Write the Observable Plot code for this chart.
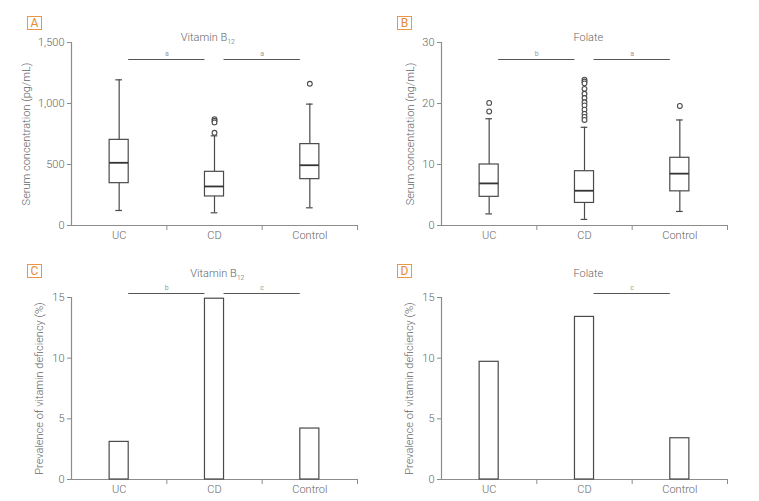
<!DOCTYPE html>
<html><head><meta charset="utf-8">
<script src="https://cdn.jsdelivr.net/npm/d3@7"></script>
<script src="https://cdn.jsdelivr.net/npm/@observablehq/plot@0.6"></script>
<style>
body{margin:0;background:#fff;width:759px;height:501px;position:relative;overflow:hidden;font-family:Roboto,"Liberation Sans",sans-serif;}
.panel{position:absolute;}
.letter{position:absolute;box-sizing:border-box;width:15px;height:14px;border:1.3px solid #ea9548;color:#e58a35;font-size:12px;line-height:12px;text-align:center;font-family:Roboto,sans-serif;}
</style></head><body>
<script>
// ---- data ----
const categories = ["UC", "CD", "Control"];

// A: Vitamin B12 serum concentration (pg/mL)
const b12Low = [123, 104, 145];
const b12Q1 = [347, 238, 380];
const b12Median = [514, 320, 494];
const b12Q3 = [702, 440, 667];
const b12High = [1194, 735, 995];
const b12Outliers = [[], [872, 858, 845, 760], [1162]];

// B: Folate serum concentration (ng/mL)
const folLow = [1.9, 1.0, 2.3];
const folQ1 = [4.7, 3.7, 5.6];
const folMedian = [6.9, 5.7, 8.5];
const folQ3 = [10.0, 8.9, 11.1];
const folHigh = [17.5, 16.1, 17.3];
const folOutliers = [[18.7, 20.1], [23.9, 23.6, 23.3, 22.4, 21.6, 20.9, 20.2, 19.7, 19.0, 18.3, 17.8, 17.3], [19.6]];

// C, D: prevalence of deficiency (%)
const b12Deficiency = [3.1, 14.9, 4.2];
const folDeficiency = [9.7, 13.4, 3.4];

// significance brackets [from, to, label]
const b12SerumSig = [["UC", "CD", "a"], ["CD", "Control", "a"]];
const folSerumSig = [["UC", "CD", "b"], ["CD", "Control", "a"]];
const b12DefSig = [["UC", "CD", "b"], ["CD", "Control", "c"]];
const folDefSig = [["CD", "Control", "c"]];

const yTicksB12 = [0, 500, 1000, 1500];
const yTicksFol = [0, 10, 20, 30];
const yTicksDef = [0, 5, 10, 15];

// ---- drawing ----
const AXIS = "#8c8c8c", INK = "#4a4a4a", TEXT = "#666";
const idx = c => categories.indexOf(c);

function boxMarks(low, q1, med, q3, high, outl) {
  const boxes = categories.map((c, i) => ({i, low: low[i], q1: q1[i], med: med[i], q3: q3[i], high: high[i]}));
  const pts = outl.flatMap((arr, i) => arr.map(v => ({i, v})));
  const cx = d => d.i + 0.5;
  return [
    Plot.ruleX(boxes, {x: cx, y1: "low", y2: "q1", stroke: INK, strokeWidth: 1.2}),
    Plot.ruleX(boxes, {x: cx, y1: "q3", y2: "high", stroke: INK, strokeWidth: 1.2}),
    Plot.ruleY(boxes, {y: "low", x1: d => d.i + 0.465, x2: d => d.i + 0.535, stroke: INK, strokeWidth: 1.2}),
    Plot.ruleY(boxes, {y: "high", x1: d => d.i + 0.465, x2: d => d.i + 0.535, stroke: INK, strokeWidth: 1.2}),
    Plot.rect(boxes, {x1: d => d.i + 0.4, x2: d => d.i + 0.6, y1: "q1", y2: "q3", fill: "white", stroke: INK, strokeWidth: 1.2}),
    Plot.ruleY(boxes, {y: "med", x1: d => d.i + 0.4, x2: d => d.i + 0.6, stroke: "#333", strokeWidth: 1.8}),
    Plot.dot(pts, {x: cx, y: "v", r: 2.4, stroke: INK, strokeWidth: 1.1, fill: "white"})
  ];
}

function barMarks(vals) {
  const bars = categories.map((c, i) => ({i, v: vals[i]}));
  return [Plot.rectY(bars, {x1: d => d.i + 0.4, x2: d => d.i + 0.6, y1: 0, y2: "v", fill: "white", stroke: INK, strokeWidth: 1.2})];
}

function panel(o) {
  const yMax = o.yDomain[1];
  const chart = Plot.plot({
    width: o.width, height: o.height,
    marginLeft: o.mL, marginRight: o.mR, marginTop: o.mT, marginBottom: o.mB,
    x: {domain: [0, 3]},
    y: {domain: o.yDomain},
    style: {fontFamily: "Roboto, 'Liberation Sans', sans-serif", fontSize: "11px", color: TEXT, background: "white", overflow: "visible"},
    marks: [
      Plot.axisY(o.yTicks, {tickSize: 4, tickPadding: 3, tickFormat: o.yFormat, stroke: AXIS, fill: TEXT,
        label: o.yLabel, labelAnchor: "center", labelOffset: o.labelOffset, labelArrow: "none", fontWeight: 300}),
      Plot.axisX([0.5, 1.5, 2.5], {tickSize: 0, tickPadding: 6, tickFormat: d => categories[Math.floor(d)], label: null, fill: TEXT, fontWeight: 300}),
      Plot.axisX([1, 2, 3], {tickSize: 5, tickFormat: () => "", label: null, stroke: AXIS}),
      Plot.ruleX([0], {stroke: AXIS, strokeWidth: 1.2}),
      Plot.ruleY([0], {stroke: AXIS, strokeWidth: 1.2}),
      ...o.marks,
      Plot.ruleY(o.sig, {y: yMax, x1: d => idx(d[0]) + 0.6, x2: d => idx(d[1]) + 0.4, dy: o.sigDy, stroke: "#555", strokeWidth: 1}),
      Plot.text(o.sig, {x: d => idx(d[1]), y: yMax, dy: o.sigDy - 6, text: d => d[2], fontSize: 7, fill: "#999", lineAnchor: "middle"}),
      Plot.text([o.title], {x: o.titleX, frameAnchor: "top", dy: o.titleDy, lineAnchor: "middle", fill: TEXT, fontSize: 11, fontWeight: 300, className: "ttl"})
    ]
  });
  d3.select(chart).selectAll("text").each(function() {
    if (this.textContent === "Vitamin B12") {
      this.textContent = "Vitamin B";
      d3.select(this).append("tspan").attr("font-size", 7).attr("dy", 3).text("12");
    }
  });
  const wrap = document.createElement("div");
  wrap.className = "panel";
  wrap.style.left = o.left + "px"; wrap.style.top = o.top + "px";
  wrap.appendChild(chart);
  document.body.appendChild(wrap);
  const L = document.createElement("div");
  L.className = "letter"; L.textContent = o.letter;
  L.style.left = o.letterX + "px"; L.style.top = o.letterY + "px";
  document.body.appendChild(L);
}

const fmtK = d3.format(",");

panel({left: 0, top: 0, width: 379, height: 250, mL: 71, mR: 22, mT: 42, mB: 25,
  yDomain: [0, 1500], yTicks: yTicksB12, yFormat: fmtK, yLabel: "Serum concentration (pg/mL)", labelOffset: 49,
  title: "Vitamin B12", titleX: 1.43, titleDy: -5, sig: b12SerumSig, sigDy: 17,
  marks: boxMarks(b12Low, b12Q1, b12Median, b12Q3, b12High, b12Outliers), letter: "A", letterX: 27, letterY: 16});

panel({left: 379, top: 0, width: 380, height: 250, mL: 62, mR: 32, mT: 42, mB: 25,
  yDomain: [0, 30], yTicks: yTicksFol, yFormat: d => d, yLabel: "Serum concentration (ng/mL)", labelOffset: 35,
  title: "Folate", titleX: 1.54, titleDy: -5, sig: folSerumSig, sigDy: 17,
  marks: boxMarks(folLow, folQ1, folMedian, folQ3, folHigh, folOutliers), letter: "B", letterX: 397, letterY: 16});

panel({left: 0, top: 250, width: 379, height: 251, mL: 71, mR: 22, mT: 47, mB: 22,
  yDomain: [0, 15], yTicks: yTicksDef, yFormat: d => d, yLabel: "Prevalence of vitamin deficiency (%)", labelOffset: 36,
  title: "Vitamin B12", titleX: 1.53, titleDy: -24, sig: b12DefSig, sigDy: -4,
  marks: barMarks(b12Deficiency), letter: "C", letterX: 27, letterY: 264});

panel({left: 379, top: 250, width: 380, height: 251, mL: 62, mR: 32, mT: 47, mB: 22,
  yDomain: [0, 15], yTicks: yTicksDef, yFormat: d => d, yLabel: "Prevalence of vitamin deficiency (%)", labelOffset: 36,
  title: "Folate", titleX: 1.54, titleDy: -24, sig: folDefSig, sigDy: -4,
  marks: barMarks(folDeficiency), letter: "D", letterX: 397, letterY: 264});
</script>
</body></html>
